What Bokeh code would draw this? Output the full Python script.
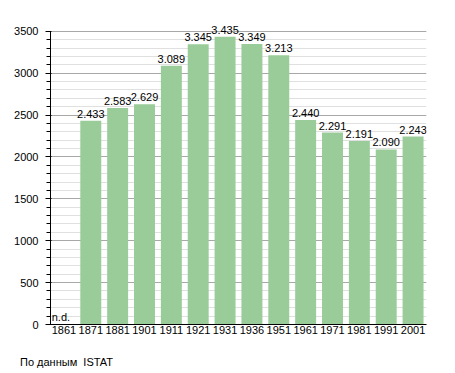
from bokeh.plotting import figure
from bokeh.layouts import column
from bokeh.models import ColumnDataSource, FactorRange, Range1d, LabelSet, SingleIntervalTicker, Div
from bokeh.core.properties import value
from bokeh.embed import file_html
from bokeh.resources import INLINE

years = ["1861", "1871", "1881", "1901", "1911", "1921", "1931", "1936", "1951", "1961", "1971", "1981", "1991", "2001"]
population = [0, 2433, 2583, 2629, 3089, 3345, 3435, 3349, 3213, 2440, 2291, 2191, 2090, 2243]
labels = ["n.d.", "2.433", "2.583", "2.629", "3.089", "3.345", "3.435", "3.349", "3.213", "2.440", "2.291", "2.191", "2.090", "2.243"]
source_note = "По данным&nbsp;&nbsp;ISTAT"

FONT = "Liberation Sans"

src = ColumnDataSource(dict(x=years[1:], top=population[1:], lab=labels[1:]))
nd = ColumnDataSource(dict(x=years[:1], y=population[:1], lab=labels[:1]))

p = figure(x_range=FactorRange(*years, range_padding=0), y_range=Range1d(0, 3700),
           width=447, height=342, output_backend="svg", toolbar_location=None,
           min_border_left=50, min_border_right=21, min_border_top=14, min_border_bottom=18)
p.outline_line_color = None

p.vbar(x="x", top="top", width=0.78, source=src, fill_color="#99cc99", line_color=None)
p.add_layout(LabelSet(x="x", y="top", text="lab", source=src, text_align="center", text_baseline="bottom",
                      y_offset=3, text_font=value(FONT), text_font_size="11px", text_color="#000000"))
p.add_layout(LabelSet(x="x", y="y", text="lab", source=nd, text_align="center", text_baseline="bottom",
                      x_offset=-3, y_offset=2, text_font=value(FONT), text_font_size="11px", text_color="#000000"))

p.yaxis.ticker = SingleIntervalTicker(interval=500, num_minor_ticks=5)
p.yaxis.bounds = (0, 3500)
p.ygrid.bounds = (0, 3500)
p.yaxis.major_tick_out = 5
p.yaxis.major_tick_in = 1
p.yaxis.minor_tick_out = 4
p.yaxis.minor_tick_in = 0
p.yaxis.major_label_standoff = 7
p.yaxis.axis_line_color = "black"
p.yaxis.major_tick_line_color = "black"
p.yaxis.minor_tick_line_color = "black"

p.xaxis.major_tick_line_color = None
p.xaxis.minor_tick_line_color = None
p.xaxis.major_tick_out = 0
p.xaxis.major_tick_in = 0
p.xaxis.major_label_standoff = 1
p.xaxis.axis_line_color = "black"

for ax in (p.xaxis, p.yaxis):
    ax.major_label_text_font = FONT
    ax.major_label_text_font_size = "11px"
    ax.major_label_text_color = "#000000"

p.xgrid.grid_line_color = None
p.ygrid.grid_line_color = "#a8a8a8"
p.ygrid.minor_grid_line_color = "#e0e0e0"

note = Div(text=source_note, width=200, height=30, margin=0,
           styles={"font-family": FONT, "font-size": "11px", "color": "#000000",
                   "padding-left": "20px", "padding-top": "14px", "line-height": "13px"})

layout = column(p, note, spacing=0)

open("out.html", "w").write(file_html(layout, INLINE))
